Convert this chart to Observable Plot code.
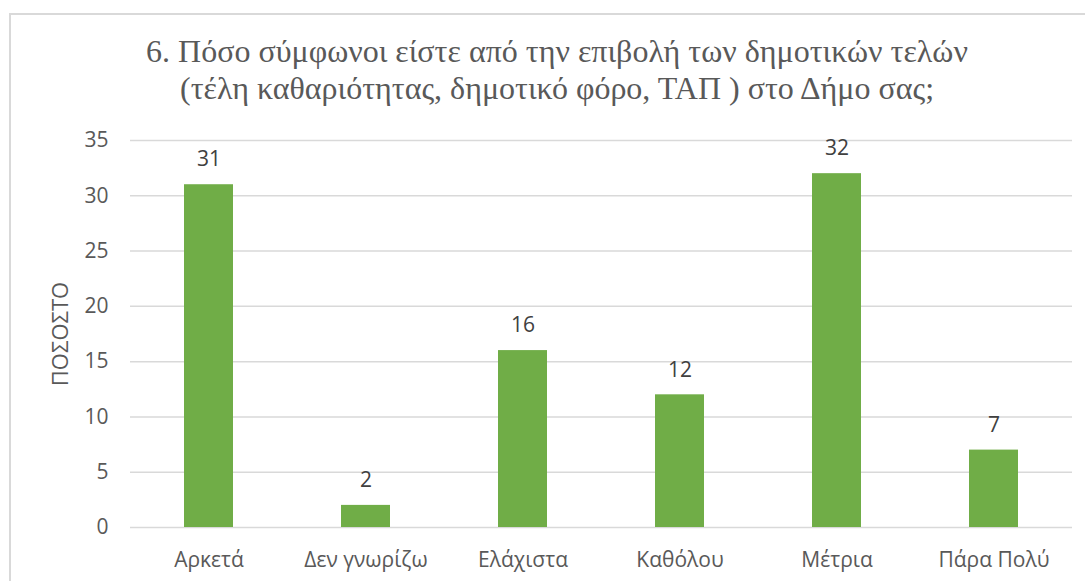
<!DOCTYPE html>
<html>
<head>
<meta charset="utf-8">
<script src="https://cdn.jsdelivr.net/npm/d3@7"></script>
<script src="https://cdn.jsdelivr.net/npm/@observablehq/plot@0.6"></script>
<style>
  html, body { margin: 0; padding: 0; background: #fff; }
  #wrap { position: relative; width: 1085px; height: 581px; overflow: hidden; }
  #frame { position: absolute; left: 9px; top: 13px; width: 1200px; height: 700px; border: 2px solid #d9d9d9; box-sizing: border-box; }
  #title { position: absolute; left: 0; top: 33px; width: 1114px; text-align: center;
           font-family: "Liberation Serif", "Times New Roman", serif;
           font-size: 32px; line-height: 37px; color: #595959; white-space: nowrap; }
  #chart { position: absolute; left: 0; top: 0; }
</style>
</head>
<body>
<div id="wrap">
  <div id="frame"></div>
  <div id="chart"></div>
  <div id="title">6. Πόσο σύμφωνοι είστε από την επιβολή των δημοτικών τελών<br>(τέλη καθαριότητας, δημοτικό φόρο, ΤΑΠ ) στο Δήμο σας;</div>
</div>
<script>
const categories = ["Αρκετά", "Δεν γνωρίζω", "Ελάχιστα", "Καθόλου", "Μέτρια", "Πάρα Πολύ"];
const values = [31, 2, 16, 12, 32, 7];
const yTicks = [0, 5, 10, 15, 20, 25, 30, 35];
const yLabel = "ΠΟΣΟΣΤΟ";

const data = categories.map((c, i) => ({category: c, value: values[i]}));

const chart = Plot.plot({
  width: 1085,
  height: 581,
  marginTop: 140,
  marginBottom: 54,
  marginLeft: 130,
  marginRight: 13,
  style: {fontFamily: "'Open Sans', 'Noto Sans', sans-serif", fontSize: "21px", color: "#595959", background: "transparent"},
  x: {domain: categories, paddingInner: 0.69, paddingOuter: 0.345, label: null},
  y: {domain: [0, 35], ticks: yTicks, label: null},
  marks: [
    Plot.gridY(yTicks, {stroke: "#d9d9d9", strokeOpacity: 1, strokeWidth: 1.5}),
    Plot.barY(data, {x: "category", y: "value", fill: "#70ad47"}),
    Plot.text(data, {x: "category", y: "value", text: d => String(d.value), dy: -25, fill: "#404040", fontSize: 21}),
    Plot.axisY(yTicks, {tickSize: 0, tickPadding: 22, fontSize: 21, fill: "#595959", label: null}),
    Plot.axisX({tickSize: 0, tickPadding: 25, fontSize: 21, fill: "#595959", label: null}),
    Plot.text([yLabel], {frameAnchor: "left", textAnchor: "middle", dx: -70, rotate: -90, fontSize: 22, fill: "#595959"})
  ]
});
document.getElementById("chart").appendChild(chart);
</script>
</body>
</html>
